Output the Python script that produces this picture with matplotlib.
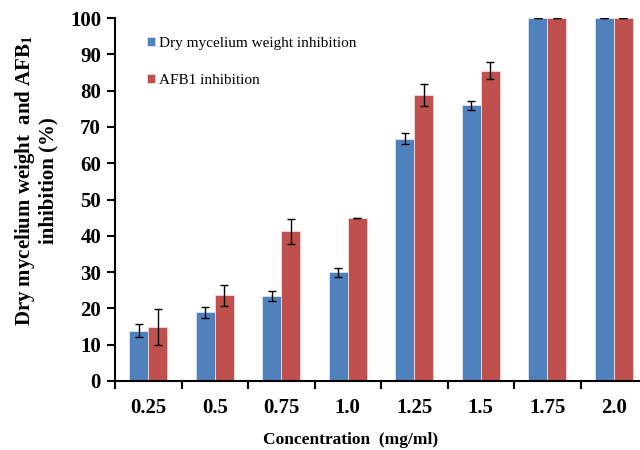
import numpy as np
import matplotlib
matplotlib.use("Agg")
import matplotlib.pyplot as plt

# ── data ──────────────────────────────────────────────
concentrations = ["0.25", "0.5", "0.75", "1.0", "1.25", "1.5", "1.75", "2.0"]
mycelium = [13.8, 18.9, 23.5, 29.9, 66.8, 75.9, 100, 100]
mycelium_err = [1.8, 1.6, 1.4, 1.2, 1.5, 1.3, 0, 0]
afb1 = [14.8, 23.6, 41.2, 44.8, 78.8, 85.5, 100, 100]
afb1_err = [5.0, 2.9, 3.4, 0, 3.1, 2.4, 0, 0]

plt.rcParams["font.family"] = ["Liberation Serif", "DejaVu Serif"]
plt.rcParams["mathtext.fontset"] = "stix"

fig = plt.figure(figsize=(6.4, 4.5), dpi=100)
ax = fig.add_axes([115 / 640, 69 / 450, 532 / 640, 363 / 450])

x = np.arange(len(concentrations))
w = 0.285
ek = dict(ecolor="black", elinewidth=1, capsize=3, capthick=1)
ax.bar(x - w / 2, mycelium, w, yerr=mycelium_err, color="#4F81BD",
       edgecolor="#dbe5f1", linewidth=0.6, label="Dry mycelium weight inhibition",
       error_kw=ek)
ax.bar(x + w / 2, afb1, w, yerr=afb1_err, color="#C0504D",
       edgecolor="#f2dcdb", linewidth=0.6, label="AFB1 inhibition",
       error_kw=ek)

ax.set_xlim(-0.5, len(concentrations) - 0.5)
ax.set_ylim(0, 100)
ax.set_yticks(range(0, 101, 10))
ax.set_xticks(x)
ax.set_xticklabels(concentrations, fontsize=15, fontweight="bold")
ax.set_xticks(np.arange(-0.5, len(concentrations)), minor=True)
ax.tick_params(axis="x", which="major", length=0, pad=12)
ax.tick_params(axis="x", which="minor", length=6, width=1.5, direction="out")
ax.tick_params(axis="y", length=6, width=1.5, direction="out", labelsize=15, pad=4)
for lab in ax.get_yticklabels():
    lab.set_fontweight("bold")

for s in ["top", "right"]:
    ax.spines[s].set_visible(False)
for s in ["left", "bottom"]:
    ax.spines[s].set_linewidth(1.5)

ax.set_xlabel("Concentration  (mg/ml)", fontsize=12.5, fontweight="bold")
ax.xaxis.set_label_coords(0.442, -0.14)
ax.set_ylabel("Dry mycelium weight  and AFB$_\\mathbf{1}$\ninhibition (%)",
              fontsize=15, fontweight="bold", linespacing=1.05)
ax.yaxis.set_label_coords(-0.107, 0.553)

ax.legend(loc="upper left", bbox_to_anchor=(0.035, 0.985), frameon=False,
          fontsize=11, handlelength=0.5, handleheight=0.5,
          handletextpad=0.25, labelspacing=1.55)

fig.savefig("out.png", dpi=100)
